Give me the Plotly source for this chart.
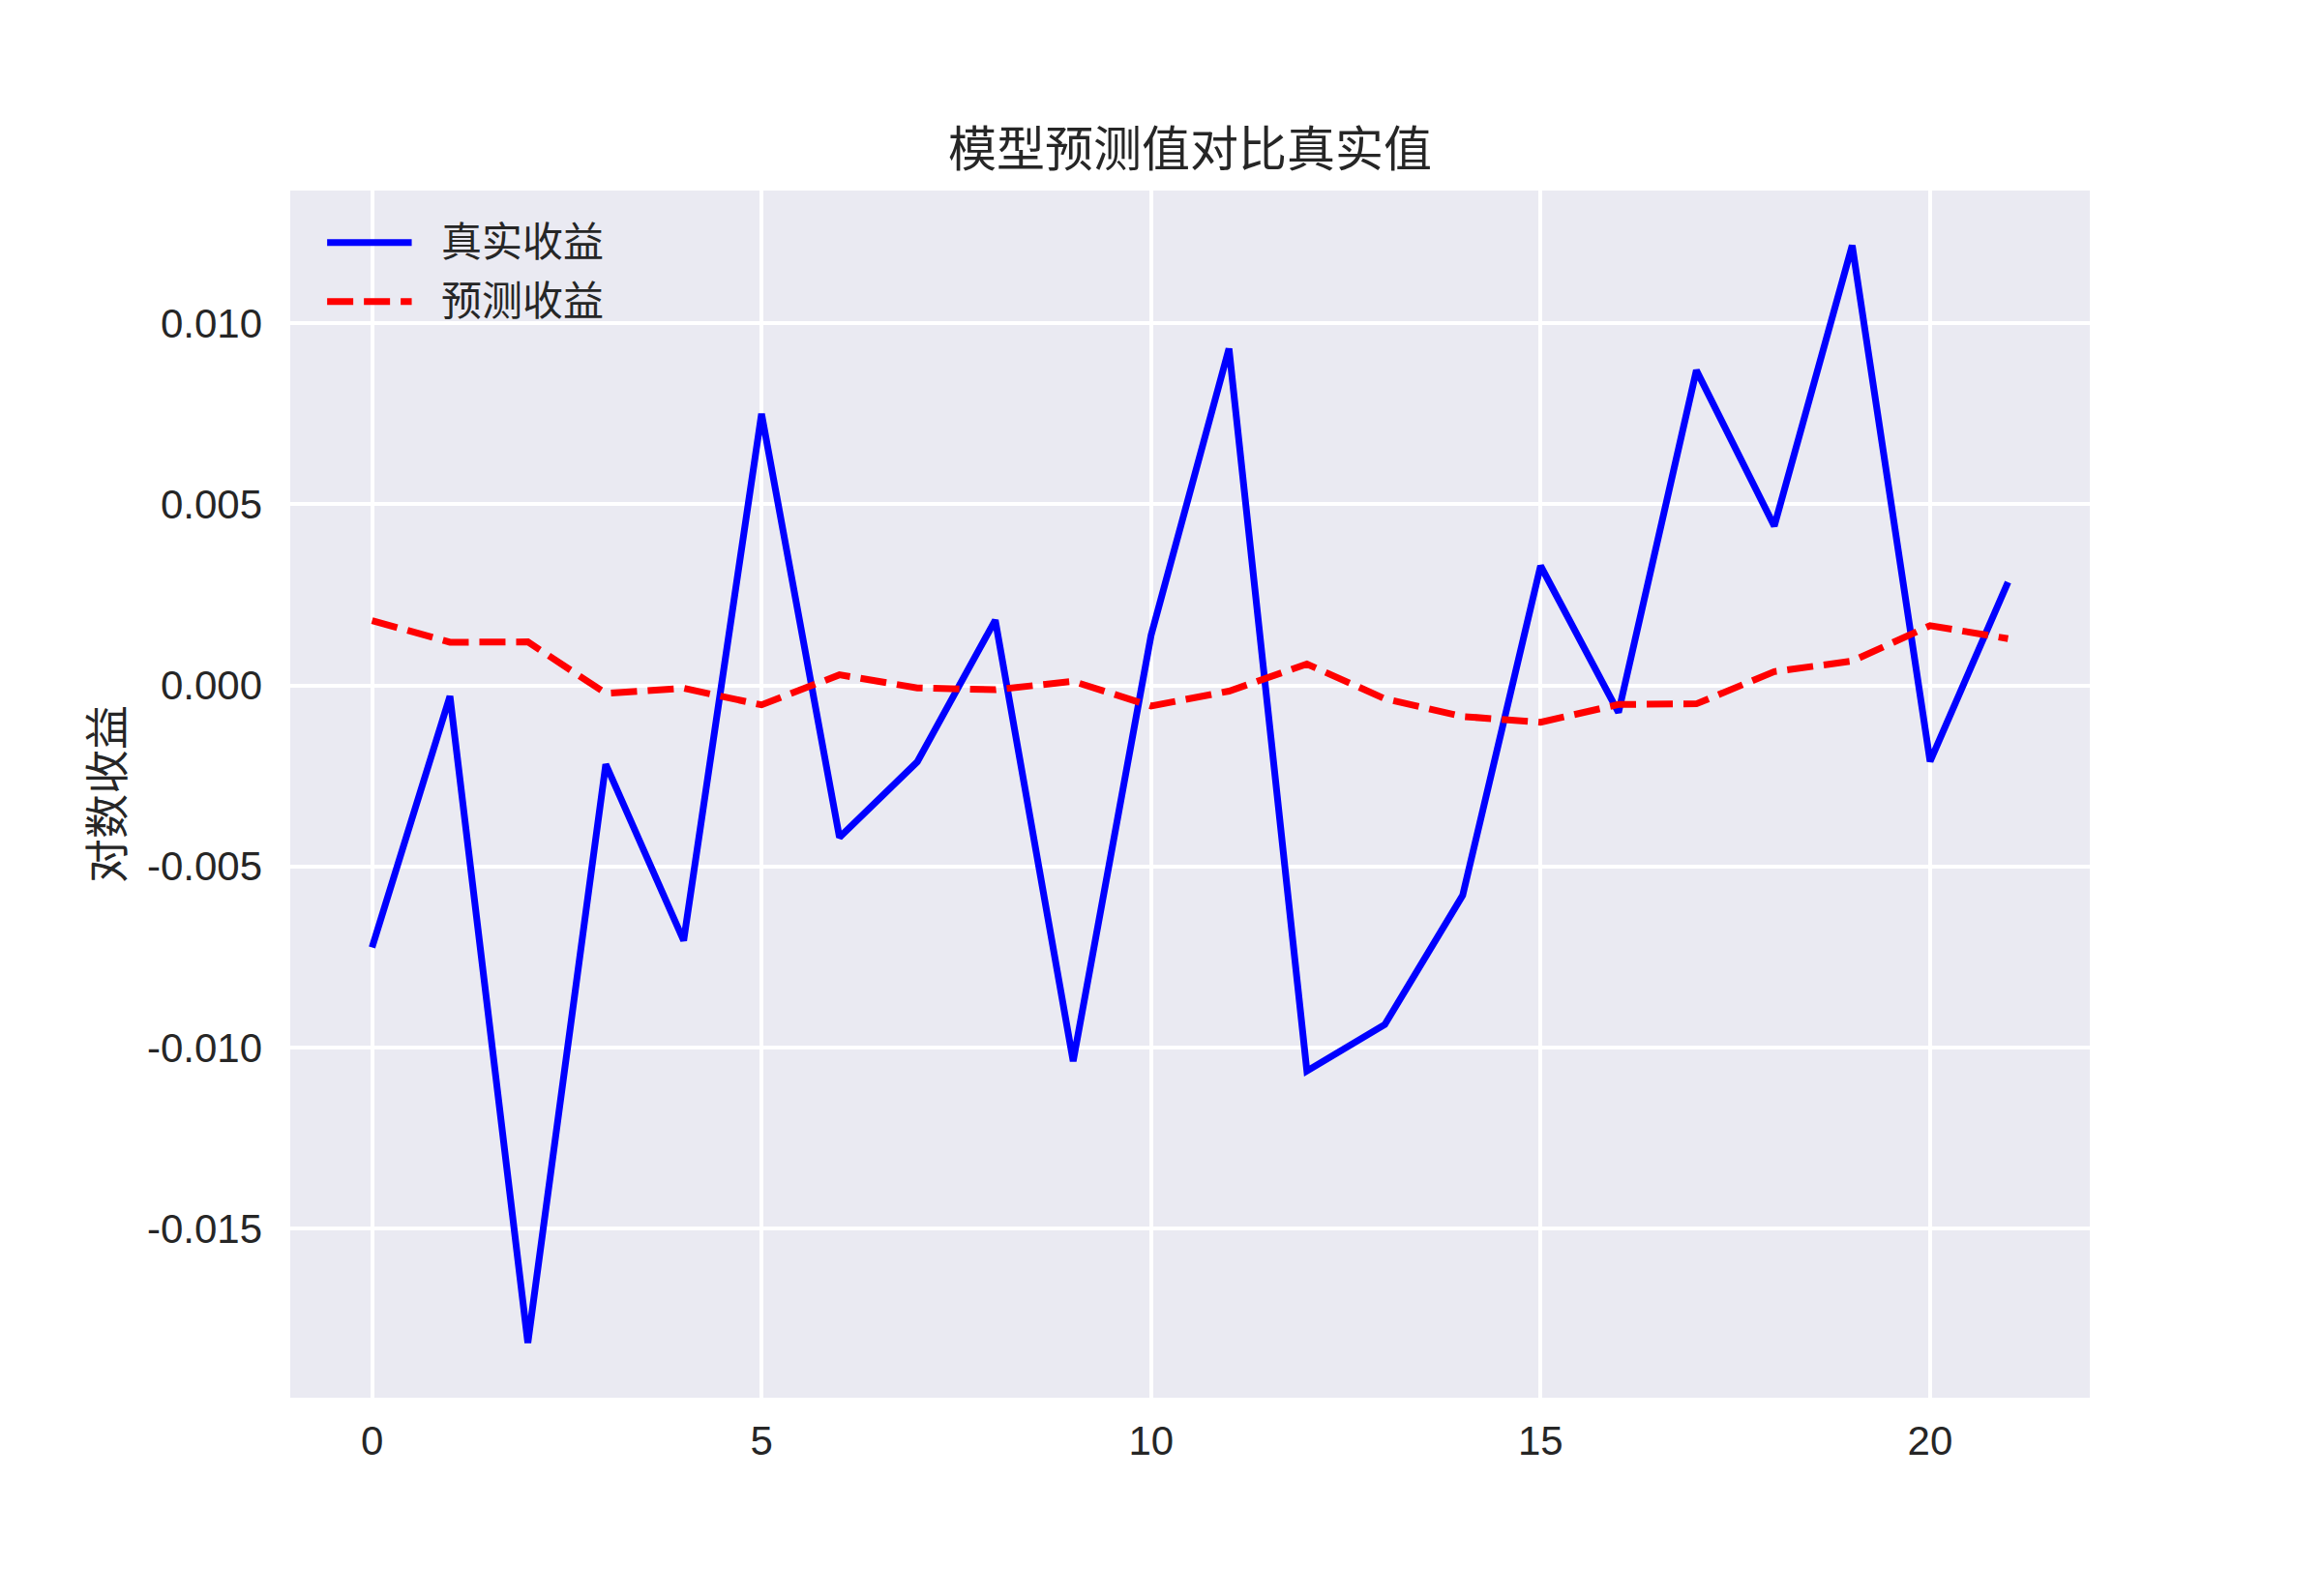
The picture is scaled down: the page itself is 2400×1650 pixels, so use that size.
import plotly.graph_objects as go

days = list(range(22))
real_ret = [-0.00724, -0.00030, -0.01816, -0.00218, -0.00705, 0.00750, -0.00420, -0.00211,
            0.00180, -0.01038, 0.00138, 0.00930, -0.01065, -0.00937, -0.00580, 0.00330,
            -0.00075, 0.00870, 0.00440, 0.01215, -0.00210, 0.00285]
pred_ret = [0.00179, 0.00119, 0.00120, -0.00022, -0.00008, -0.00054, 0.00029, -0.00007,
            -0.00012, 0.00011, -0.00057, -0.00016, 0.00059, -0.00037, -0.00086, -0.00102,
            -0.00053, -0.00051, 0.00038, 0.00067, 0.00165, 0.00129]
names = ["真实收益", "预测收益"]
x_ticks = [0, 5, 10, 15, 20]
y_ticks = [-0.015, -0.010, -0.005, 0.000, 0.005, 0.010]
y_labels = ["-0.015", "-0.010", "-0.005", "0.000", "0.005", "0.010"]

FONT = "Liberation Sans, Arial, Noto Sans CJK SC, sans-serif"
TXT = "#262626"
dash = "27px,11px"

# matplotlib style 5% padding around the data
lo = min(real_ret + pred_ret)
hi = max(real_ret + pred_ret)
pad = (hi - lo) * 0.05
xpad = (days[-1] - days[0]) * 0.05

fig = go.Figure()
fig.add_trace(go.Scatter(x=days, y=real_ret, mode="lines", name=names[0],
                         line=dict(color="#0000ff", width=7)))
fig.add_trace(go.Scatter(x=days, y=pred_ret, mode="lines", name=names[1],
                         line=dict(color="#ff0000", width=7, dash=dash)))

# legend drawn by hand so the sample lines are as long as matplotlib's
rows = [(0.957, "#0000ff", "solid"), (0.908, "#ff0000", dash)]
for (yy, col, ds), nm in zip(rows, names):
    fig.add_shape(type="line", xref="x domain", yref="y domain",
                  x0=0.0205, x1=0.0675, y0=yy, y1=yy,
                  line=dict(color=col, width=7, dash=ds))
    fig.add_annotation(xref="x domain", yref="y domain", x=0.083, y=yy,
                       text=nm, showarrow=False, xanchor="left", yanchor="middle",
                       font=dict(size=42, color=TXT, family=FONT))

fig.update_layout(
    width=2400, height=1650,
    margin=dict(l=300, r=240, t=197, b=205),
    paper_bgcolor="white", plot_bgcolor="#eaeaf2",
    showlegend=False,
    font=dict(family=FONT, color=TXT, size=42),
    title=dict(text="模型预测值对比真实值", x=0.5, xref="paper", xanchor="center",
               y=1 - 154 / 1650, yanchor="middle",
               font=dict(size=50, color=TXT, family=FONT)),
)
fig.update_xaxes(range=[days[0] - xpad, days[-1] + xpad], tickvals=x_ticks,
                 showgrid=True, gridcolor="white", gridwidth=4, zeroline=False,
                 showline=False, ticks="", ticklabelstandoff=16,
                 tickfont=dict(size=42, color=TXT))
fig.update_yaxes(range=[lo - pad, hi + pad], tickvals=y_ticks, ticktext=y_labels,
                 showgrid=True, gridcolor="white", gridwidth=4, zeroline=False,
                 showline=False, ticks="", ticklabelstandoff=28,
                 tickfont=dict(size=42, color=TXT),
                 title=dict(text="对数收益", standoff=9,
                            font=dict(size=46, color=TXT, family=FONT)))

# drop the default page margin so the figure sits at the window corner
fig.write_html("out.html", config={"displayModeBar": False},
               post_script="document.body.style.margin='0';")
